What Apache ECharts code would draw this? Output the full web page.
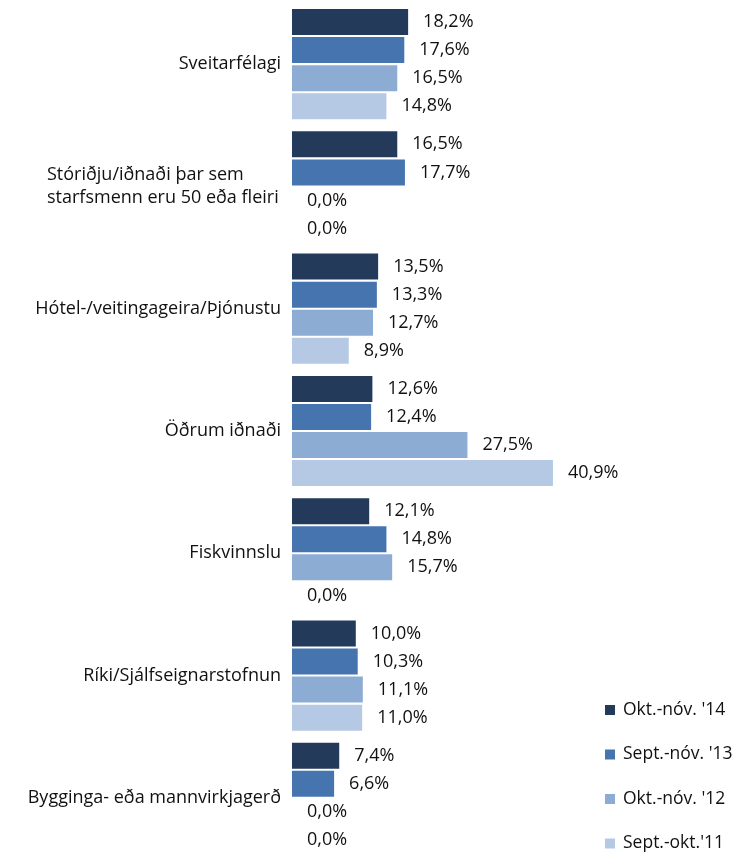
<!DOCTYPE html>
<html>
<head>
<meta charset="utf-8">
<script src="https://cdn.jsdelivr.net/npm/echarts@6/dist/echarts.min.js"></script>
<style>
html,body{margin:0;padding:0;background:#fff;}
#chart{width:745px;height:852px;}
</style>
</head>
<body>
<div id="chart"></div>
<script>
const categories = [
  "Sveitarfélagi",
  "Stóriðju/iðnaði þar sem\nstarfsmenn eru 50 eða fleiri",
  "Hótel-/veitingageira/Þjónustu",
  "Öðrum iðnaði",
  "Fiskvinnslu",
  "Ríki/Sjálfseignarstofnun",
  "Bygginga- eða mannvirkjagerð"
];
const seriesNames = ["Okt.-nóv. '14", "Sept.-nóv. '13", "Okt.-nóv. '12", "Sept.-okt.'11"];
const okt14 = [18.2, 16.5, 13.5, 12.6, 12.1, 10.0, 7.4];
const sept13 = [17.6, 17.7, 13.3, 12.4, 14.8, 10.3, 6.6];
const okt12 = [16.5, 0.0, 12.7, 27.5, 15.7, 11.1, 0.0];
const sept11 = [14.8, 0.0, 8.9, 40.9, 0.0, 11.0, 0.0];
const seriesData = [okt14, sept13, okt12, sept11];
const colors = ["#243A5B", "#4674AF", "#8DACD4", "#B5C9E4"];

const FONT = "Open Sans";
const FS = 18;
const chart = echarts.init(document.getElementById('chart'), null, {renderer: 'canvas'});
chart.setOption({
  animation: false,
  backgroundColor: '#fff',
  textStyle: {fontFamily: FONT},
  grid: {left: 292, top: 3, width: 319, height: 856, containLabel: false, outerBoundsMode: 'none'},
  legend: {
    orient: 'vertical',
    left: 605,
    top: 701,
    height: 400,
    padding: 0,
    itemWidth: 10,
    itemHeight: 10,
    itemGap: 26.5,
    icon: 'rect',
    textStyle: {fontFamily: FONT, fontSize: 17.5, lineHeight: 18, color: '#111', padding: [0,0,0,3]},
    data: seriesNames
  },
  xAxis: {
    type: 'value', min: 0, max: 50,
    axisLine: {show: false}, axisTick: {show: false}, axisLabel: {show: false}, splitLine: {show: false}
  },
  yAxis: {
    type: 'category', inverse: true, data: categories,
    axisLine: {show: false}, axisTick: {show: false}, splitLine: {show: false},
    axisLabel: {
      margin: 11, color: '#111', fontFamily: FONT, fontSize: FS, lineHeight: 23, align: 'right',
      formatter: function (v) {
        if (v.indexOf('\n') >= 0) {
          return v.split('\n').map(s => '{c|' + s + '}').join('\n');
        }
        return v;
      },
      rich: {c: {width: 234, align: 'left', fontFamily: FONT, fontSize: FS, lineHeight: 23, color: '#111'}}
    }
  },
  series: seriesData.map((d, i) => ({
    name: seriesNames[i],
    type: 'bar',
    data: d,
    barWidth: 26,
    barGap: '8%',
    itemStyle: {color: colors[i]},
    label: {
      show: true, position: 'right', distance: 15,
      color: '#111', fontFamily: FONT, fontSize: FS,
      formatter: p => p.value.toFixed(1).replace('.', ',') + '%'
    }
  }))
});
</script>
</body>
</html>
